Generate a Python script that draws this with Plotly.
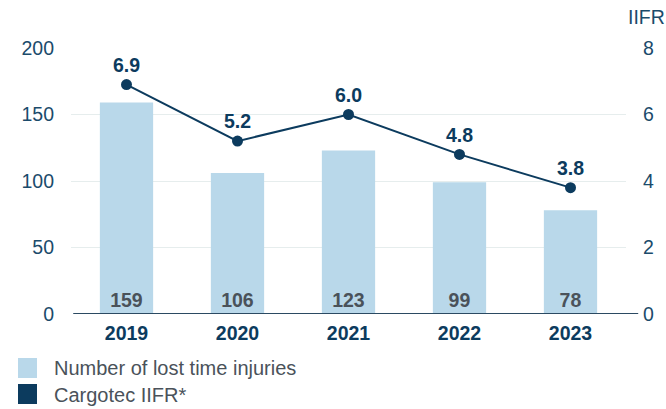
import plotly.graph_objects as go

years = ["2019", "2020", "2021", "2022", "2023"]
lost_time_injuries = [159, 106, 123, 99, 78]
iifr = [6.9, 5.2, 6.0, 4.8, 3.8]

left_ticks = [0, 50, 100, 150, 200]
right_ticks = [0, 2, 4, 6, 8]

BAR = "#b9d8ea"
NAVY = "#0c3b5e"
AXIS_TXT = "#1b4b6b"
GRAY_TXT = "#4a525a"
FONT = "Liberation Sans, Arial, sans-serif"
FS = 19.5

fig = go.Figure()

fig.add_trace(go.Bar(
    x=years, y=lost_time_injuries, name="Number of lost time injuries",
    marker=dict(color=BAR, line=dict(width=0)),
    text=[str(v) for v in lost_time_injuries],
    textposition="inside", insidetextanchor="start",
    textfont=dict(family=FONT, size=FS, color=GRAY_TXT, weight="bold"),
    constraintext="none", cliponaxis=False, showlegend=False,
))

fig.add_trace(go.Scatter(
    x=years, y=iifr, yaxis="y2", name="Cargotec IIFR*",
    mode="lines+markers+text",
    line=dict(color=NAVY, width=2),
    marker=dict(color=NAVY, size=11),
    text=[f"{v:.1f}" for v in iifr], textposition="top center",
    textfont=dict(family=FONT, size=FS, color=NAVY, weight="bold"),
    cliponaxis=False, showlegend=False,
))

fig.update_layout(
    width=666, height=409,
    margin=dict(l=71, r=40, t=48, b=95),
    paper_bgcolor="white", plot_bgcolor="white",
    bargap=0.52,
    font=dict(family=FONT, size=FS, color=AXIS_TXT),
    xaxis=dict(
        tickfont=dict(family=FONT, size=FS, color=NAVY, weight="bold"),
        showgrid=False, showline=False, zeroline=False,
        ticks="outside", ticklen=2, tickcolor="rgba(0,0,0,0)",
    ),
    yaxis=dict(
        range=[0, 200], tickvals=left_ticks,
        showgrid=True, gridcolor="#e6eded", gridwidth=1,
        zeroline=False, showline=False,
        ticklabelstandoff=16,
        tickfont=dict(family=FONT, size=FS, color=AXIS_TXT),
    ),
    yaxis2=dict(
        range=[0, 8], tickvals=right_ticks, overlaying="y", side="right",
        showgrid=False, zeroline=False, showline=False,
        ticklabelstandoff=16,
        tickfont=dict(family=FONT, size=FS, color=AXIS_TXT),
    ),
    shapes=[
        dict(type="line", xref="paper", yref="y", x0=0.004, x1=1.022, y0=0, y1=0,
             line=dict(color="#2b4a62", width=2)),
        dict(type="rect", xref="paper", yref="paper",
             x0=(18 - 71) / 555, x1=(37 - 71) / 555,
             y0=(314 - 378) / 266, y1=(314 - 358) / 266,
             fillcolor=BAR, line=dict(width=0)),
        dict(type="rect", xref="paper", yref="paper",
             x0=(18 - 71) / 555, x1=(37 - 71) / 555,
             y0=(314 - 404) / 266, y1=(314 - 384) / 266,
             fillcolor=NAVY, line=dict(width=0)),
    ],
    annotations=[
        dict(text="IIFR", xref="paper", yref="paper", x=(646 - 71) / 555,
             y=(314 - 17) / 266, xanchor="center", yanchor="middle",
             showarrow=False, font=dict(family=FONT, size=FS, color=AXIS_TXT)),
        dict(text="Number of lost time injuries", xref="paper", yref="paper",
             x=(52 - 71) / 555, y=(314 - 368) / 266, xanchor="left", yanchor="middle",
             showarrow=False, font=dict(family=FONT, size=20, color=GRAY_TXT)),
        dict(text="Cargotec IIFR*", xref="paper", yref="paper",
             x=(52 - 71) / 555, y=(314 - 395) / 266, xanchor="left", yanchor="middle",
             showarrow=False, font=dict(family=FONT, size=20, color=GRAY_TXT)),
    ],
)

fig.write_html("out.html")
